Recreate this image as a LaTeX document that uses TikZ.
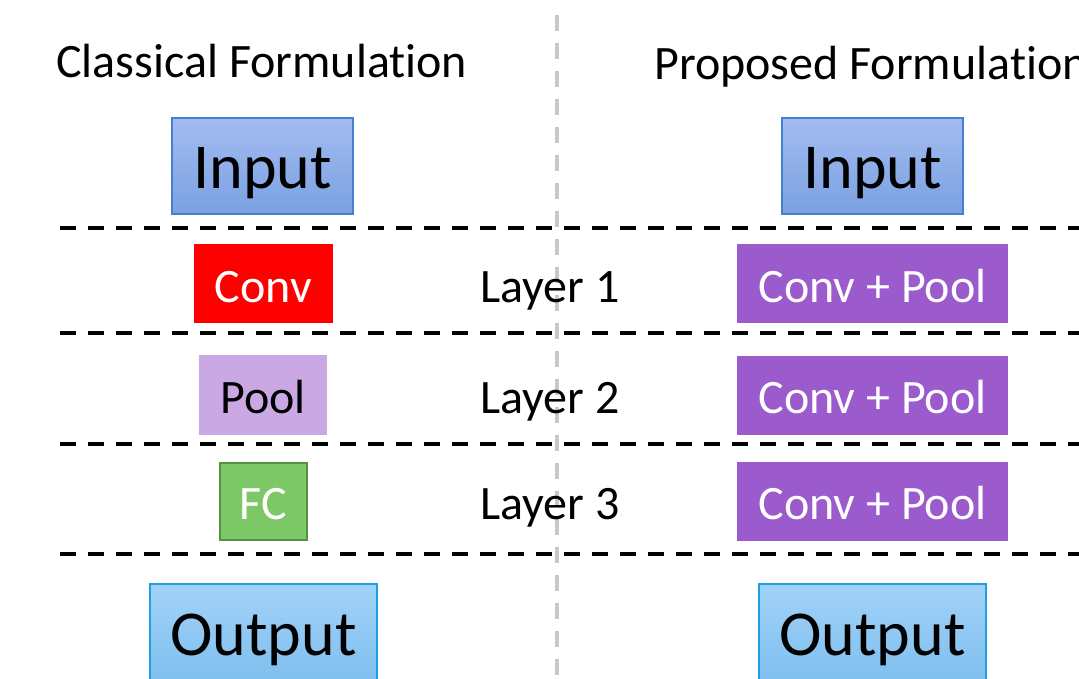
\documentclass[tikz,border=0pt]{standalone}
\usepackage{fontspec}
\setmainfont{Carlito}[Ligatures=NoCommon]
\definecolor{inTop}{RGB}{163,188,240}
\definecolor{inBot}{RGB}{122,160,226}
\definecolor{inBorder}{RGB}{68,128,210}
\definecolor{outTop}{RGB}{162,210,248}
\definecolor{outBot}{RGB}{122,188,238}
\definecolor{outBorder}{RGB}{28,160,224}
\definecolor{convRed}{RGB}{255,0,0}
\definecolor{poolLilac}{RGB}{201,168,228}
\definecolor{fcGreen}{RGB}{124,200,102}
\definecolor{fcBorder}{RGB}{84,146,66}
\definecolor{cpPurple}{RGB}{155,91,204}
\definecolor{sepGray}{RGB}{200,200,200}
\tikzset{
  inbox/.style={draw=inBorder, line width=1.2pt, top color=inTop, bottom color=inBot, minimum width=181pt, minimum height=96pt, inner sep=0pt},
  outbox/.style={draw=outBorder, line width=1.2pt, top color=outTop, bottom color=outBot, minimum width=227pt, minimum height=110pt, inner sep=0pt},
  bigtext/.style={font=\fontsize{64}{70}\selectfont, inner sep=0pt},
  lbl/.style={font=\fontsize{48}{52}\selectfont, inner sep=0pt},
  convbox/.style={fill=convRed, minimum width=139pt, minimum height=79pt, inner sep=0pt},
  poolbox/.style={fill=poolLilac, minimum width=128pt, minimum height=80pt, inner sep=0pt},
  fcbox/.style={fill=fcGreen, draw=fcBorder, line width=2pt, minimum width=87pt, minimum height=77pt, inner sep=0pt},
  cpbox/.style={fill=cpPurple, minimum width=271pt, minimum height=79pt, inner sep=0pt},
  layersep/.style={black, line width=3.2pt, dash pattern=on 16pt off 12pt},
  colsep/.style={sepGray, line width=4pt, dash pattern=on 16pt off 12pt},
}
\begin{document}
\begin{tikzpicture}[x=1pt, y=-1pt]
\useasboundingbox (0,0) rectangle (1079,679);
\clip (0,0) rectangle (1079,679);
\fill[white] (0,0) rectangle (1079,679);
% column separator
\coordinate (vtop) at (557,15);
\coordinate (vbot) at (557,700);
\draw[colsep] (vtop) -- (vbot);
% layer separators
\foreach \yy/\nm in {228/a,333/b,444/c,554/d}{
  \coordinate (hl\nm) at (60,\yy);
  \coordinate (hr\nm) at (1100,\yy);
  \draw[layersep] (hl\nm) -- (hr\nm);
}
% titles
\node[lbl, anchor=base west] (tcl) at (56,78) {Classical Formulation};
\node[lbl, anchor=base west] (tpr) at (654,80) {Proposed Formulation};
% inputs
\node[inbox] (inL) at (262.5,166) {};
\node[bigtext, anchor=base] (inLt) at (262.5,189) {Input};
\node[inbox] (inR) at (872.5,166) {};
\node[bigtext, anchor=base] (inRt) at (872.5,189) {Input};
% classical layers
\node[convbox] (conv) at (263.5,283.5) {};
\node[lbl, text=white, anchor=base] (convt) at (263.5,302) {Conv};
\node[poolbox] (pool) at (263,395) {};
\node[lbl, anchor=base] (poolt) at (263,413) {Pool};
\node[fcbox] (fc) at (263,501) {};
\node[lbl, text=white, anchor=base] (fct) at (263,519) {FC};
% layer labels
\node[lbl, anchor=base west] (l1) at (480,302) {Layer 1};
\node[lbl, anchor=base west] (l2) at (480,413) {Layer 2};
\node[lbl, anchor=base west] (l3) at (480,519) {Layer 3};
% proposed layers
\node[cpbox] (cp1) at (872.5,283.5) {};
\node[lbl, text=white, anchor=base] (cp1t) at (872.5,302) {Conv + Pool};
\node[cpbox] (cp2) at (872.5,395) {};
\node[lbl, text=white, anchor=base] (cp2t) at (872.5,413) {Conv + Pool};
\node[cpbox] (cp3) at (872.5,501) {};
\node[lbl, text=white, anchor=base] (cp3t) at (872.5,519) {Conv + Pool};
% outputs
\node[outbox] (outL) at (263.5,639) {};
\node[bigtext, anchor=base] (outLt) at (263.5,655) {Output};
\node[outbox] (outR) at (872.5,639) {};
\node[bigtext, anchor=base] (outRt) at (872.5,655) {Output};
\end{tikzpicture}
\end{document}
